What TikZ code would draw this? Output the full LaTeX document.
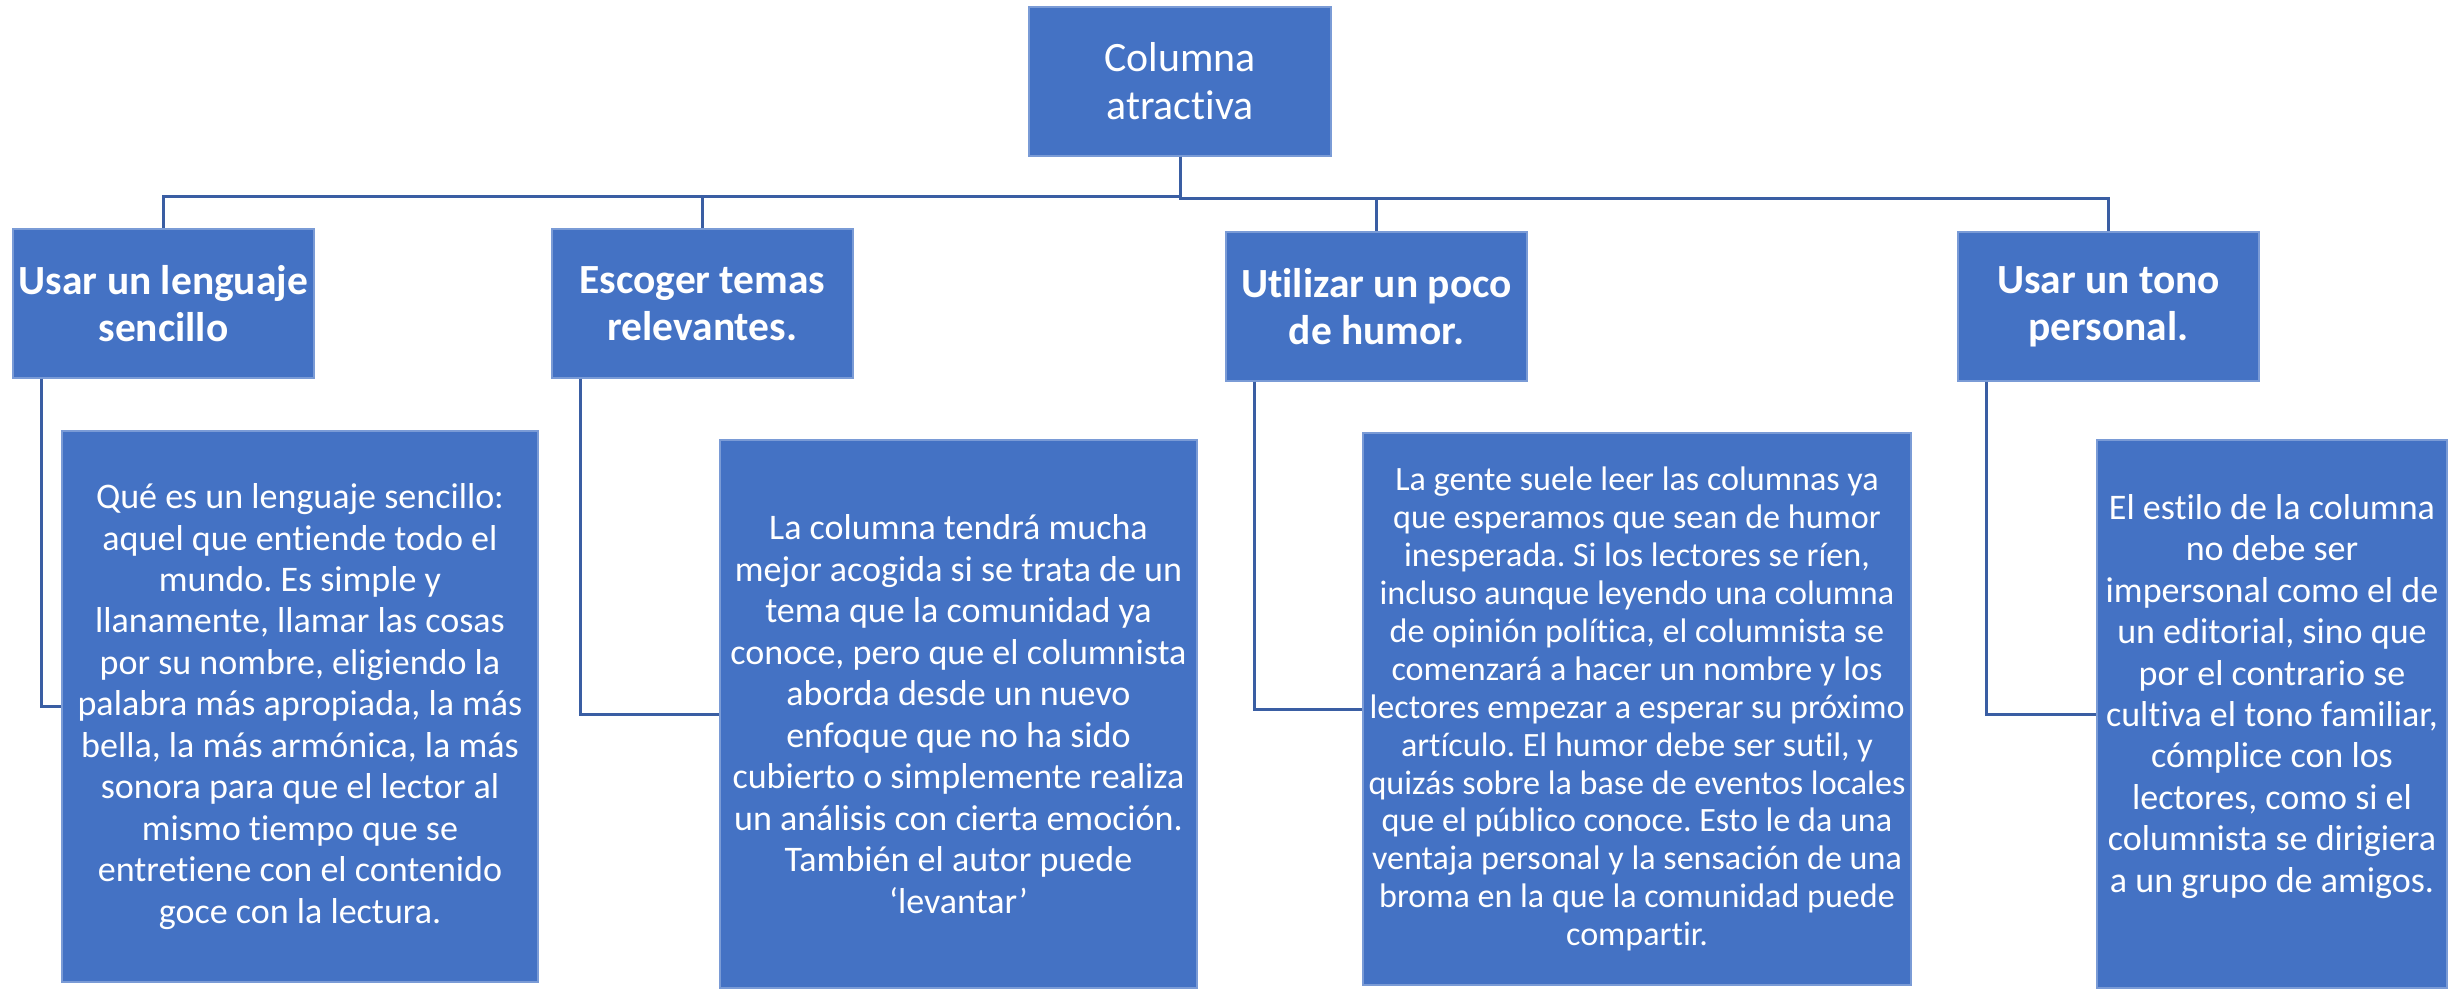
\documentclass[tikz,border=0pt]{standalone}
\usepackage{fontspec}
\setmainfont{Carlito}[Ligatures=NoCommon]
\definecolor{boxblue}{HTML}{4472C4}
\definecolor{edgeblue}{HTML}{7A9BD6}
\definecolor{linkblue}{HTML}{3A5EA3}
\frenchspacing
\begin{document}
\frenchspacing
\begin{tikzpicture}[x=0.1mm,y=-0.1mm,
  box/.style={rectangle, fill=boxblue, draw=edgeblue, line width=0.3pt,
              inner sep=0pt, text=white, align=center},
  rootbox/.style={box, minimum width=30.2mm, minimum height=14.9mm,
              font=\fontsize{11.9pt}{13.7pt}\selectfont},
  headbox/.style={box, minimum width=30.1mm, minimum height=14.9mm,
              font=\bfseries\fontsize{11.8pt}{13.4pt}\selectfont},
  detailtext/.style={font=\fontsize{10.25pt}{11.8pt}\selectfont},
  conn/.style={draw=linkblue, line width=0.85pt}]
\useasboundingbox (0,0) rectangle (2453,988);

% root
\node[rootbox] (root) at (1180,81.5) {Columna\\atractiva};

% headers
\node[headbox] (h1) at (163.5,303.5) {Usar un lenguaje\\sencillo};
\node[headbox] (h2) at (702.5,303.5) {Escoger temas\\relevantes.};
\node[headbox] (h3) at (1376.5,306.5) {Utilizar un poco\\de humor.};
\node[headbox] (h4) at (2108.5,306.5) {Usar un tono\\personal.};

% details
\node[box, detailtext, minimum width=47.6mm, minimum height=55.1mm] (d1) at (300,706.5)
{Qué es un lenguaje sencillo:\\aquel que entiende todo el\\mundo. Es simple y\\llanamente, llamar las cosas\\por su nombre, eligiendo la\\palabra más apropiada, la más\\bella, la más armónica, la más\\sonora para que el lector al\\mismo tiempo que se\\entretiene con el contenido\\goce con la lectura.};

\node[box, detailtext, minimum width=47.7mm, minimum height=54.8mm] (d2) at (958.5,714)
{La columna tendrá mucha\\mejor acogida si se trata de un\\tema que la comunidad ya\\conoce, pero que el columnista\\aborda desde un nuevo\\enfoque que no ha sido\\cubierto o simplemente realiza\\un análisis con cierta emoción.\\También el autor puede\\‘levantar’};

\node[box, font=\fontsize{9.7pt}{10.8pt}\selectfont, minimum width=54.8mm, minimum height=55.2mm] (d3) at (1637,709)
{La gente suele leer las columnas ya\\que esperamos que sean de humor\\inesperada. Si los lectores se ríen,\\incluso aunque leyendo una columna\\de opinión política, el columnista se\\comenzará a hacer un nombre y los\\lectores empezar a esperar su próximo\\artículo. El humor debe ser sutil, y\\quizás sobre la base de eventos locales\\que el público conoce. Esto le da una\\ventaja personal y la sensación de una\\broma en la que la comunidad puede\\compartir.};

\node[box, detailtext, minimum width=35mm, minimum height=54.8mm] (d4) at (2272,714)
{El estilo de la columna\\no debe ser\\impersonal como el de\\un editorial, sino que\\por el contrario se\\cultiva el tono familiar,\\cómplice con los\\lectores, como si el\\columnista se dirigiera\\a un grupo de amigos.\\\mbox{}};

% bus
\coordinate (busL) at (0,196);
\coordinate (busR) at (0,198);
\draw[conn] (root.south) -- (root.south |- busL) -| (h1.north);
\draw[conn] (root.south |- busL) -| (h2.north);
\draw[conn] (root.south) -- (root.south |- busR) -| (h3.north);
\draw[conn] (root.south |- busR) -| (h4.north);

% header to detail elbows
\draw[conn] ([xshift=2.9mm]h1.south west) |- (d1.west);
\draw[conn] ([xshift=2.9mm]h2.south west) |- (d2.west);
\draw[conn] ([xshift=2.9mm]h3.south west) |- (d3.west);
\draw[conn] ([xshift=2.9mm]h4.south west) |- (d4.west);
\end{tikzpicture}
\end{document}
